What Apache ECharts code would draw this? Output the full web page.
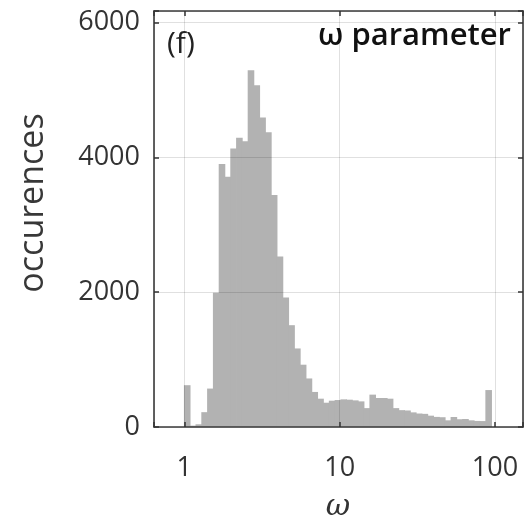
<!DOCTYPE html>
<html>
<head>
<meta charset="utf-8">
<script src="https://cdn.jsdelivr.net/npm/echarts@6/dist/echarts.min.js"></script>
<style>
html,body{margin:0;padding:0;background:#fff;}
#chart{width:528px;height:523px;}
</style>
</head>
<body>
<div id="chart"></div>
<script>
// Histogram of the omega parameter: 53 log-spaced bins between omega = 1 and omega = 95
const histLow = 1;
const histHigh = 95;
const counts = [620, 20, 40, 220, 570, 1990, 3900, 3710, 4130, 4290, 4240, 5290, 5070, 4590, 4370, 3440,
  2530, 1920, 1510, 1165, 924, 720, 520, 420, 360, 390, 400, 410, 405, 395, 380, 280,
  480, 430, 430, 420, 280, 250, 245, 217, 200, 195, 168, 150, 145, 99, 148, 115, 119, 99, 90, 88, 548];
const xTickLabels = [1, 10, 100];
const yTickLabels = [0, 2000, 4000, 6000];

const FONT = '"Open Sans", "DejaVu Sans", sans-serif';
const nBins = counts.length;
const lw = Math.log10(histLow), hw = Math.log10(histHigh);
const binData = counts.map((c, k) => [
  Math.pow(10, lw + (hw - lw) * k / nBins),
  Math.pow(10, lw + (hw - lw) * (k + 1) / nBins),
  c
]);

const xMin = 0.638, xMax = 151.4, yMax = 6170;
const isTick = (v, list) => list.some(t => Math.abs(v - t) < 1e-6 * Math.max(1, t));

const chart = echarts.init(document.getElementById('chart'), null, {renderer: 'canvas'});
const frame = {show: true, onZero: false, lineStyle: {color: '#3a3a3a', width: 1.6}};
const tick = {show: true, inside: true, length: 5, lineStyle: {color: '#333', width: 1.5}};
const grid = {show: true, lineStyle: {color: 'rgba(0,0,0,0.12)', width: 1}};
const BAR = '#b2b2b2';

chart.setOption({
  animation: false,
  backgroundColor: '#fff',
  grid: {left: 154, right: 5, top: 11, bottom: 96, containLabel: false},
  xAxis: [{
    type: 'log', logBase: 10, min: xMin, max: xMax, position: 'bottom', z: 3,
    axisLine: frame, axisTick: tick, splitLine: grid, minorTick: {show: false},
    axisLabel: {
      show: true, margin: 28, color: '#333', fontSize: 27, fontFamily: FONT,
      formatter: v => isTick(v, xTickLabels) ? String(Math.round(v)) : ''
    }
  }, {
    type: 'log', logBase: 10, min: xMin, max: xMax, position: 'top', z: 3,
    axisLine: frame, axisTick: tick, splitLine: {show: false}, axisLabel: {show: false}
  }],
  yAxis: [{
    type: 'value', min: 0, max: yMax, interval: 2000, position: 'left', z: 3,
    axisLine: frame, axisTick: tick, splitLine: grid,
    axisLabel: {
      show: true, margin: 14, color: '#333', fontSize: 27, fontFamily: FONT,
      formatter: v => isTick(v, yTickLabels) ? String(v) : ''
    }
  }, {
    type: 'value', min: 0, max: yMax, interval: 2000, position: 'right', z: 3,
    axisLine: frame, axisTick: tick, splitLine: {show: false}, axisLabel: {show: false}
  }],
  series: [{
    type: 'custom',
    xAxisIndex: 0, yAxisIndex: 0,
    encode: {x: [0, 1], y: 2},
    data: binData,
    z: 2,
    renderItem: function (params, api) {
      const lo = api.value(0), hi = api.value(1), c = api.value(2);
      const pTop = api.coord([lo, c]);
      const pBot = api.coord([hi, 0]);
      return {
        type: 'rect',
        shape: {x: pTop[0] - 0.4, y: pTop[1], width: pBot[0] - pTop[0] + 0.8, height: pBot[1] - pTop[1]},
        style: {fill: BAR, stroke: null}
      };
    }
  }],
  graphic: [
    {type: 'text', left: 167, top: 29, z: 10,
     style: {text: '(f)', fontSize: 30, fontFamily: FONT, fill: '#222'}},
    {type: 'text', right: 17, top: 21, z: 10,
     style: {text: 'ω parameter', fontSize: 31, fontWeight: 600, fontFamily: FONT, fill: '#111'}},
    {type: 'text', z: 10, x: 33, y: 203, rotation: Math.PI / 2,
     style: {text: 'occurences', fontSize: 34, fontFamily: FONT, fill: '#383838', align: 'center', verticalAlign: 'middle'}},
    {type: 'text', z: 10, x: 338, y: 507,
     style: {text: 'ω', fontSize: 30, fontStyle: 'italic', fontFamily: '"DejaVu Serif", serif', fill: '#333', align: 'center', verticalAlign: 'middle'}}
  ]
});
</script>
</body>
</html>
